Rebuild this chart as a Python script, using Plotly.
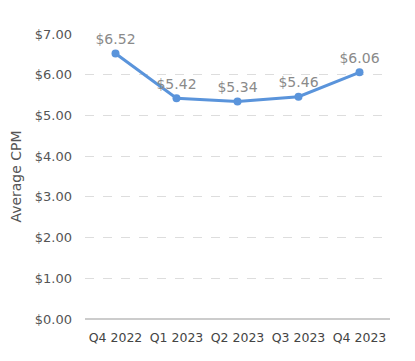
import plotly.graph_objects as go

quarters = ["Q4 2022", "Q1 2023", "Q2 2023", "Q3 2023", "Q4 2023"]
cpm = [6.52, 5.42, 5.34, 5.46, 6.06]
y_ticks = [0, 1, 2, 3, 4, 5, 6, 7]
y_tick_labels = ["$%.2f" % v for v in y_ticks]

fig = go.Figure()
fig.add_trace(go.Scatter(
    x=quarters, y=cpm,
    mode="lines+markers+text",
    text=["$%.2f" % v for v in cpm],
    textposition="top center",
    textfont=dict(size=14, color="#8a8a8a"),
    line=dict(color="#5a94db", width=3),
    marker=dict(size=8, color="#5a94db"),
    cliponaxis=False,
    showlegend=False,
))
fig.update_layout(
    width=415, height=361,
    margin=dict(l=77, r=33, t=26, b=50),
    paper_bgcolor="white", plot_bgcolor="white",
    font=dict(family="DejaVu Sans, sans-serif", color="#555555", size=12),
    xaxis=dict(type="category", range=[-0.5, 4.5], showgrid=False, automargin=False,
               showline=False, ticks="", ticklabelstandoff=9,
               tickfont=dict(size=12.5, color="#444444")),
    yaxis=dict(range=[0, 7], tickvals=y_ticks, ticktext=y_tick_labels, automargin=False,
               showgrid=True, gridcolor="#dddddd", griddash="dash", gridwidth=1,
               zeroline=True, zerolinecolor="#cccccc", zerolinewidth=2,
               showline=False, ticks="", ticklabelstandoff=12,
               tickfont=dict(size=13, color="#555555"),
               title=dict(text="Average CPM", font=dict(size=14, color="#555555"), standoff=12)),
)
fig.write_html("out.html")
